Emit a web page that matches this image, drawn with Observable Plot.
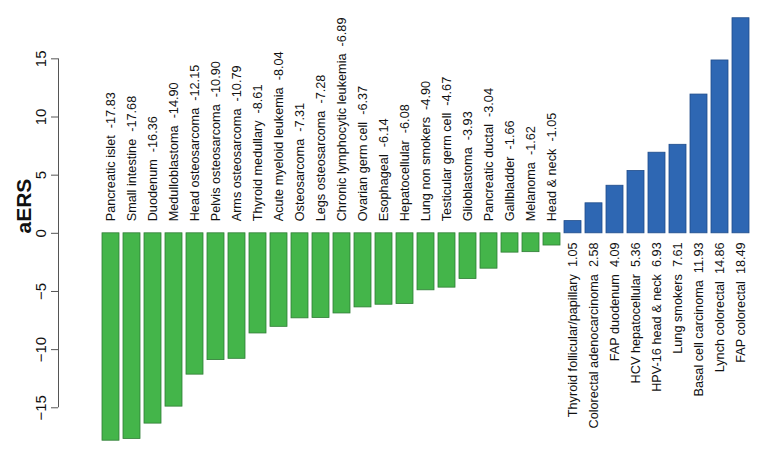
<!DOCTYPE html>
<html>
<head>
<meta charset="utf-8">
<script src="https://cdn.jsdelivr.net/npm/d3@7"></script>
<script src="https://cdn.jsdelivr.net/npm/@observablehq/plot@0.6"></script>
<style>
  html, body { margin: 0; padding: 0; background: #ffffff; }
  #chart svg text { white-space: pre; }
</style>
</head>
<body>
<div id="chart"></div>
<script>
// Negative aERS (green)
const negNames = [
  "Pancreatic islet", "Small intestine", "Duodenum", "Medulloblastoma",
  "Head osteosarcoma", "Pelvis osteosarcoma", "Arms osteosarcoma", "Thyroid medullary",
  "Acute myeloid leukemia", "Osteosarcoma", "Legs osteosarcoma", "Chronic lymphocytic leukemia",
  "Ovarian germ cell", "Esophageal", "Hepatocellular", "Lung non smokers",
  "Testicular germ cell", "Glioblastoma", "Pancreatic ductal", "Gallbladder",
  "Melanoma", "Head & neck"
];
const negValues = [
  -17.83, -17.68, -16.36, -14.90,
  -12.15, -10.90, -10.79, -8.61,
  -8.04, -7.31, -7.28, -6.89,
  -6.37, -6.14, -6.08, -4.90,
  -4.67, -3.93, -3.04, -1.66,
  -1.62, -1.05
];
// Positive aERS (blue)
const posNames = [
  "Thyroid follicular/papillary", "Colorectal adenocarcinoma", "FAP duodenum",
  "HCV hepatocellular", "HPV-16 head & neck", "Lung smokers",
  "Basal cell carcinoma", "Lynch colorectal", "FAP colorectal"
];
const posValues = [1.05, 2.58, 4.09, 5.36, 6.93, 7.61, 11.93, 14.86, 18.49];
const yTicks = [-15, -10, -5, 0, 5, 10, 15];
const yLabel = "aERS";

const fmt = v => v.toFixed(2);
const neg = negNames.map((n, i) => ({name: n, value: negValues[i], label: n + "\u00a0\u00a0" + fmt(negValues[i])}));
const pos = posNames.map((n, i) => ({name: n, value: posValues[i], label: n + "\u00a0\u00a0" + fmt(posValues[i])}));
const allNames = negNames.concat(posNames);

const W = 770, H = 452;
const mL = 58, mR = 5, mT = 6, mB = 4;
const frameCenter = (mL + W - mR) / 2;

const chart = Plot.plot({
  width: W,
  height: H,
  marginLeft: mL,
  marginRight: mR,
  marginTop: mT,
  marginBottom: mB,
  style: {fontFamily: "'Liberation Sans', Arial, Helvetica, sans-serif", fontSize: "12.7px", background: "#ffffff", color: "#000"},
  x: {type: "band", domain: allNames, paddingInner: 0.17, paddingOuter: 0.15, insetLeft: 29, axis: null},
  y: {domain: [-18.5, 19.5], axis: null},
  marks: [
    Plot.barY(neg, {x: "name", y: "value", fill: "#44b54a", stroke: "#2f7d35", strokeWidth: 0.8}),
    Plot.barY(pos, {x: "name", y: "value", fill: "#2e67b3", stroke: "#1f4c8a", strokeWidth: 0.8}),
    Plot.text(neg, {x: "name", y: 0, text: "label", rotate: -90, textAnchor: "start", dy: -12, fill: "#111"}),
    Plot.text(pos, {x: "name", y: 0, text: "label", rotate: -90, textAnchor: "end", dy: 9, fill: "#111"}),
    Plot.axisY({ticks: yTicks, tickSize: 7, tickRotate: -90, tickPadding: 6, label: null, fontSize: 15, stroke: "#555", fill: "#111"}),
    Plot.ruleX([0], {x: null, y1: -15, y2: 15, dx: mL - frameCenter, stroke: "#555"}),
    Plot.text([yLabel], {frameAnchor: "left", dx: -34, dy: 6, rotate: -90, text: d => d, fontSize: 21, fontWeight: "bold", fill: "#111"})
  ]
});
document.getElementById("chart").appendChild(chart);
</script>
</body>
</html>
